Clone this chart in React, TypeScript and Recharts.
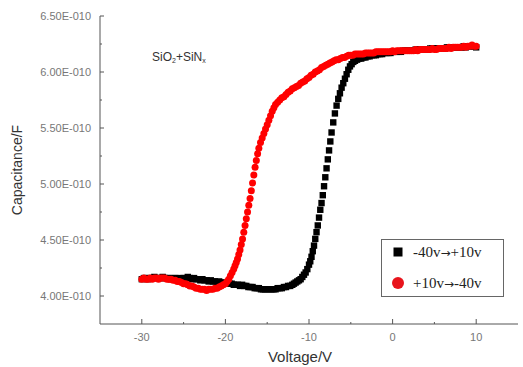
import React from "react";
import { ScatterChart, Scatter, XAxis, YAxis } from "recharts";

// Forward sweep (-40 V -> +10 V), capacitance in units of 1E-010 F
const fwdVoltage = [
  -30, -29.75, -29.5, -29.25, -29, -28.75, -28.5, -28.25, -28, -27.75,
  -27.5, -27.25, -27, -26.75, -26.5, -26.25, -26, -25.75, -25.5, -25.25,
  -25, -24.75, -24.5, -24.25, -24, -23.75, -23.5, -23.25, -23, -22.75,
  -22.5, -22.25, -22, -21.75, -21.5, -21.25, -21, -20.75, -20.5, -20.25,
  -20, -19.75, -19.5, -19.25, -19, -18.75, -18.5, -18.25, -18, -17.75,
  -17.5, -17.25, -17, -16.75, -16.5, -16.25, -16, -15.75, -15.5, -15.25,
  -15, -14.75, -14.5, -14.25, -14, -13.75, -13.5, -13.25, -13, -12.75,
  -12.5, -12.25, -12, -11.8, -11.6, -11.4, -11.2, -11, -10.8, -10.6,
  -10.4, -10.2, -10, -9.85, -9.7, -9.55, -9.4, -9.25, -9.1, -8.95,
  -8.8, -8.65, -8.5, -8.35, -8.2, -8.05, -7.9, -7.75, -7.6, -7.45,
  -7.3, -7.1, -6.9, -6.7, -6.5, -6.3, -6.1, -5.9, -5.7, -5.5,
  -5.3, -5.1, -4.9, -4.7, -4.5, -4.25, -4, -3.75, -3.5, -3.25,
  -3, -2.75, -2.5, -2.25, -2, -1.75, -1.5, -1.25, -1, -0.75,
  -0.5, -0.25, 0, 0.25, 0.5, 0.75, 1, 1.25, 1.5, 1.75,
  2, 2.25, 2.5, 2.75, 3, 3.25, 3.5, 3.75, 4, 4.25,
  4.5, 4.75, 5, 5.25, 5.5, 5.75, 6, 6.25, 6.5, 6.75,
  7, 7.25, 7.5, 7.75, 8, 8.25, 8.5, 8.75, 9, 9.25,
  9.5, 9.75, 10,
];
const fwdCap = [
  4.15, 4.16, 4.16, 4.15, 4.16, 4.16, 4.17, 4.16, 4.16, 4.16,
  4.17, 4.16, 4.16, 4.16, 4.15, 4.16, 4.16, 4.15, 4.16, 4.15,
  4.16, 4.16, 4.17, 4.16, 4.15, 4.16, 4.15, 4.15, 4.14, 4.15,
  4.14, 4.14, 4.13, 4.14, 4.13, 4.13, 4.12, 4.13, 4.12, 4.12,
  4.11, 4.12, 4.11, 4.11, 4.1, 4.1, 4.1, 4.09, 4.1, 4.09,
  4.09, 4.08, 4.08, 4.08, 4.07, 4.07, 4.07, 4.06, 4.06, 4.06,
  4.06, 4.06, 4.06, 4.06, 4.06, 4.07, 4.07, 4.07, 4.08, 4.08,
  4.09, 4.09, 4.1, 4.11, 4.12, 4.13, 4.14, 4.15, 4.17, 4.19,
  4.21, 4.24, 4.28, 4.31, 4.35, 4.4, 4.45, 4.51, 4.57, 4.63,
  4.7, 4.77, 4.83, 4.9, 4.98, 5.06, 5.14, 5.22, 5.3, 5.38,
  5.46, 5.55, 5.63, 5.7, 5.76, 5.81, 5.86, 5.9, 5.94, 5.98,
  6.02, 6.05, 6.07, 6.09, 6.1, 6.11, 6.12, 6.12, 6.13, 6.13,
  6.14, 6.14, 6.15, 6.15, 6.15, 6.16, 6.16, 6.16, 6.17, 6.17,
  6.17, 6.17, 6.18, 6.18, 6.18, 6.18, 6.18, 6.19, 6.19, 6.19,
  6.19, 6.19, 6.19, 6.2, 6.2, 6.2, 6.2, 6.2, 6.2, 6.2,
  6.21, 6.21, 6.21, 6.21, 6.21, 6.21, 6.21, 6.21, 6.22, 6.22,
  6.22, 6.22, 6.22, 6.22, 6.22, 6.22, 6.23, 6.22, 6.23, 6.23,
  6.23, 6.23, 6.22,
];

// Reverse sweep (+10 V -> -40 V)
const revVoltage = [
  10, 9.75, 9.5, 9.25, 9, 8.75, 8.5, 8.25, 8, 7.75,
  7.5, 7.25, 7, 6.75, 6.5, 6.25, 6, 5.75, 5.5, 5.25,
  5, 4.75, 4.5, 4.25, 4, 3.75, 3.5, 3.25, 3, 2.75,
  2.5, 2.25, 2, 1.75, 1.5, 1.25, 1, 0.75, 0.5, 0.25,
  0, -0.25, -0.5, -0.75, -1, -1.25, -1.5, -1.75, -2, -2.25,
  -2.5, -2.75, -3, -3.25, -3.5, -3.75, -4, -4.25, -4.5, -4.75,
  -5, -5.25, -5.5, -5.75, -6, -6.25, -6.5, -6.75, -7, -7.25,
  -7.5, -7.75, -8, -8.25, -8.5, -8.75, -9, -9.25, -9.5, -9.75,
  -10, -10.25, -10.5, -10.75, -11, -11.25, -11.5, -11.75, -12, -12.25,
  -12.5, -12.75, -13, -13.25, -13.5, -13.75, -14, -14.2, -14.4, -14.6,
  -14.8, -15, -15.2, -15.4, -15.6, -15.8, -16, -16.15, -16.3, -16.45,
  -16.6, -16.75, -16.9, -17.05, -17.2, -17.35, -17.5, -17.65, -17.8, -17.95,
  -18.1, -18.25, -18.4, -18.55, -18.7, -18.85, -19, -19.2, -19.4, -19.6,
  -19.8, -20, -20.25, -20.5, -20.75, -21, -21.25, -21.5, -21.75, -22,
  -22.25, -22.5, -22.75, -23, -23.25, -23.5, -23.75, -24, -24.25, -24.5,
  -24.75, -25, -25.25, -25.5, -25.75, -26, -26.25, -26.5, -26.75, -27,
  -27.25, -27.5, -27.75, -28, -28.25, -28.5, -28.75, -29, -29.25, -29.5,
  -29.75, -30,
];
const revCap = [
  6.23, 6.23, 6.24, 6.23, 6.23, 6.22, 6.23, 6.22, 6.22, 6.22,
  6.22, 6.22, 6.21, 6.22, 6.21, 6.21, 6.21, 6.21, 6.21, 6.2,
  6.2, 6.21, 6.2, 6.2, 6.2, 6.2, 6.2, 6.2, 6.19, 6.2,
  6.19, 6.19, 6.19, 6.19, 6.19, 6.19, 6.19, 6.19, 6.19, 6.18,
  6.19, 6.18, 6.18, 6.18, 6.18, 6.18, 6.18, 6.18, 6.18, 6.17,
  6.17, 6.17, 6.17, 6.17, 6.16, 6.16, 6.16, 6.16, 6.16, 6.15,
  6.15, 6.15, 6.14, 6.13, 6.13, 6.12, 6.11, 6.11, 6.1, 6.09,
  6.08, 6.07, 6.06, 6.05, 6.04, 6.02, 6.01, 6.0, 5.98, 5.97,
  5.95, 5.94, 5.92, 5.91, 5.9, 5.88, 5.87, 5.86, 5.85, 5.83,
  5.82, 5.8, 5.78, 5.77, 5.75, 5.73, 5.71, 5.68, 5.65, 5.61,
  5.57, 5.53, 5.49, 5.45, 5.41, 5.37, 5.32, 5.27, 5.21, 5.15,
  5.08, 5.01, 4.94, 4.87, 4.81, 4.75, 4.69, 4.63, 4.57, 4.51,
  4.46, 4.41, 4.37, 4.33, 4.3, 4.27, 4.24, 4.21, 4.18, 4.15,
  4.13, 4.11, 4.1, 4.09, 4.08, 4.07, 4.07, 4.06, 4.06, 4.06,
  4.05, 4.06, 4.06, 4.06, 4.07, 4.07, 4.08, 4.09, 4.09, 4.1,
  4.11, 4.11, 4.12, 4.13, 4.13, 4.14, 4.14, 4.15, 4.15, 4.15,
  4.16, 4.16, 4.16, 4.15, 4.16, 4.16, 4.15, 4.16, 4.15, 4.15,
  4.16, 4.15,
];

const xTicks = [-30, -25, -20, -15, -10, -5, 0, 5, 10];
const yTicks = [3.75, 4, 4.25, 4.5, 4.75, 5, 5.25, 5.5, 5.75, 6, 6.25, 6.5];

const seriesNames = ["-40v\u2192+10v", "+10v\u2192-40v"];

const fwdData = fwdVoltage.map((v, i) => ({ v, c: fwdCap[i] }));
const revData = revVoltage.map((v, i) => ({ v, c: revCap[i] }));

const SANS = "'Liberation Sans', Arial, sans-serif";
const SERIF = "'Liberation Serif', 'Times New Roman', serif";
const AXIS = "#555";

const XTick = (props: any) => {
  const { x, y, payload } = props;
  const major = payload.value % 10 === 0;
  return (
    <g>
      <line x1={x} x2={x} y1={y} y2={y - (major ? 5 : 2)} stroke={AXIS} />
      {major && (
        <text x={x} y={y + 17} textAnchor="middle" fill="#777" fontSize={11} fontFamily={SANS}>
          {payload.value}
        </text>
      )}
    </g>
  );
};

const YTick = (props: any) => {
  const { x, y, payload } = props;
  const v = payload.value;
  const major = Math.abs(v * 2 - Math.round(v * 2)) < 1e-6;
  if (v < 3.9) return <g />;
  return (
    <g>
      <line x1={x} x2={x + (major ? 4 : 2)} y1={y} y2={y} stroke={AXIS} />
      {major && (
        <text x={x - 9} y={y + 4} textAnchor="end" fill="#777" fontSize={11} fontFamily={SANS}>
          {v.toFixed(2)}E-010
        </text>
      )}
    </g>
  );
};

const Square = (p: any) => (
  <rect x={p.cx - 3.2} y={p.cy - 3.2} width={6.4} height={6.4} fill="#000" />
);
const Dot = (p: any) => <circle cx={p.cx} cy={p.cy} r={3.5} fill="#ff0000" />;

// series label with a wide arrow, as the serif font's own arrow is tiny
const LegendLabel = ({ x, y, name }: { x: number; y: number; name: string }) => {
  const [a, b] = name.split("\u2192");
  return (
    <text x={x} y={y} fontSize={15} fontFamily={SERIF} fill="#222">
      {a}
      <tspan fontFamily="'DejaVu Sans', sans-serif" fontSize={12}>{"\u2192"}</tspan>
      {b}
    </text>
  );
};

export default function App() {
  return (
    <div style={{ position: "absolute", left: 0, top: 0, width: 523, height: 367, background: "#fff" }}>
      <ScatterChart width={523} height={367} margin={{ top: 16, right: 5, bottom: 0, left: 0 }}>
        <XAxis
          type="number"
          dataKey="v"
          domain={[-35, 15]}
          ticks={xTicks}
          height={43}
          tickSize={0}
          tickMargin={0}
          tickLine={false}
          tick={<XTick />}
          axisLine={{ stroke: AXIS }}
          interval={0}
        />
        <XAxis
          xAxisId="top"
          orientation="top"
          type="number"
          domain={[-35, 15]}
          height={0}
          tick={false}
          tickLine={false}
          axisLine={{ stroke: AXIS }}
        />
        <YAxis
          type="number"
          dataKey="c"
          domain={[3.75, 6.5]}
          ticks={yTicks}
          width={100}
          tickSize={0}
          tickMargin={0}
          tickLine={false}
          tick={<YTick />}
          axisLine={{ stroke: AXIS }}
          interval={0}
        />
        <YAxis
          yAxisId="right"
          orientation="right"
          type="number"
          domain={[3.75, 6.5]}
          width={0}
          tick={false}
          tickLine={false}
          axisLine={{ stroke: AXIS }}
        />
        <Scatter name={seriesNames[0]} data={fwdData} shape={<Square />} isAnimationActive={false} />
        <Scatter name={seriesNames[1]} data={revData} shape={<Dot />} isAnimationActive={false} />

        {/* legend box */}
        <rect x={381.5} y={239.5} width={122} height={57} fill="#fff" stroke="#666" />
        <rect x={393.5} y={247.5} width={9} height={9} fill="#000" />
        <circle cx={398} cy={283} r={6} fill="#e8141c" />
        <LegendLabel x={413} y={257} name={seriesNames[0]} />
        <LegendLabel x={413} y={288} name={seriesNames[1]} />

        <text x={152} y={61} fontSize={12} fontFamily={SANS} fill="#333">
          SiO<tspan fontSize={7} dy={2}>2</tspan>
          <tspan dy={-2}>+SiN</tspan>
          <tspan fontSize={7} dy={2}>x</tspan>
        </text>
        <text
          x={22}
          y={170}
          transform="rotate(-90 22 170)"
          textAnchor="middle"
          fontSize={14}
          fontFamily={SANS}
          fill="#333"
        >
          Capacitance/F
        </text>
        <text x={300} y={362} textAnchor="middle" fontSize={15} fontFamily={SANS} fill="#333">
          Voltage/V
        </text>
      </ScatterChart>
    </div>
  );
}
